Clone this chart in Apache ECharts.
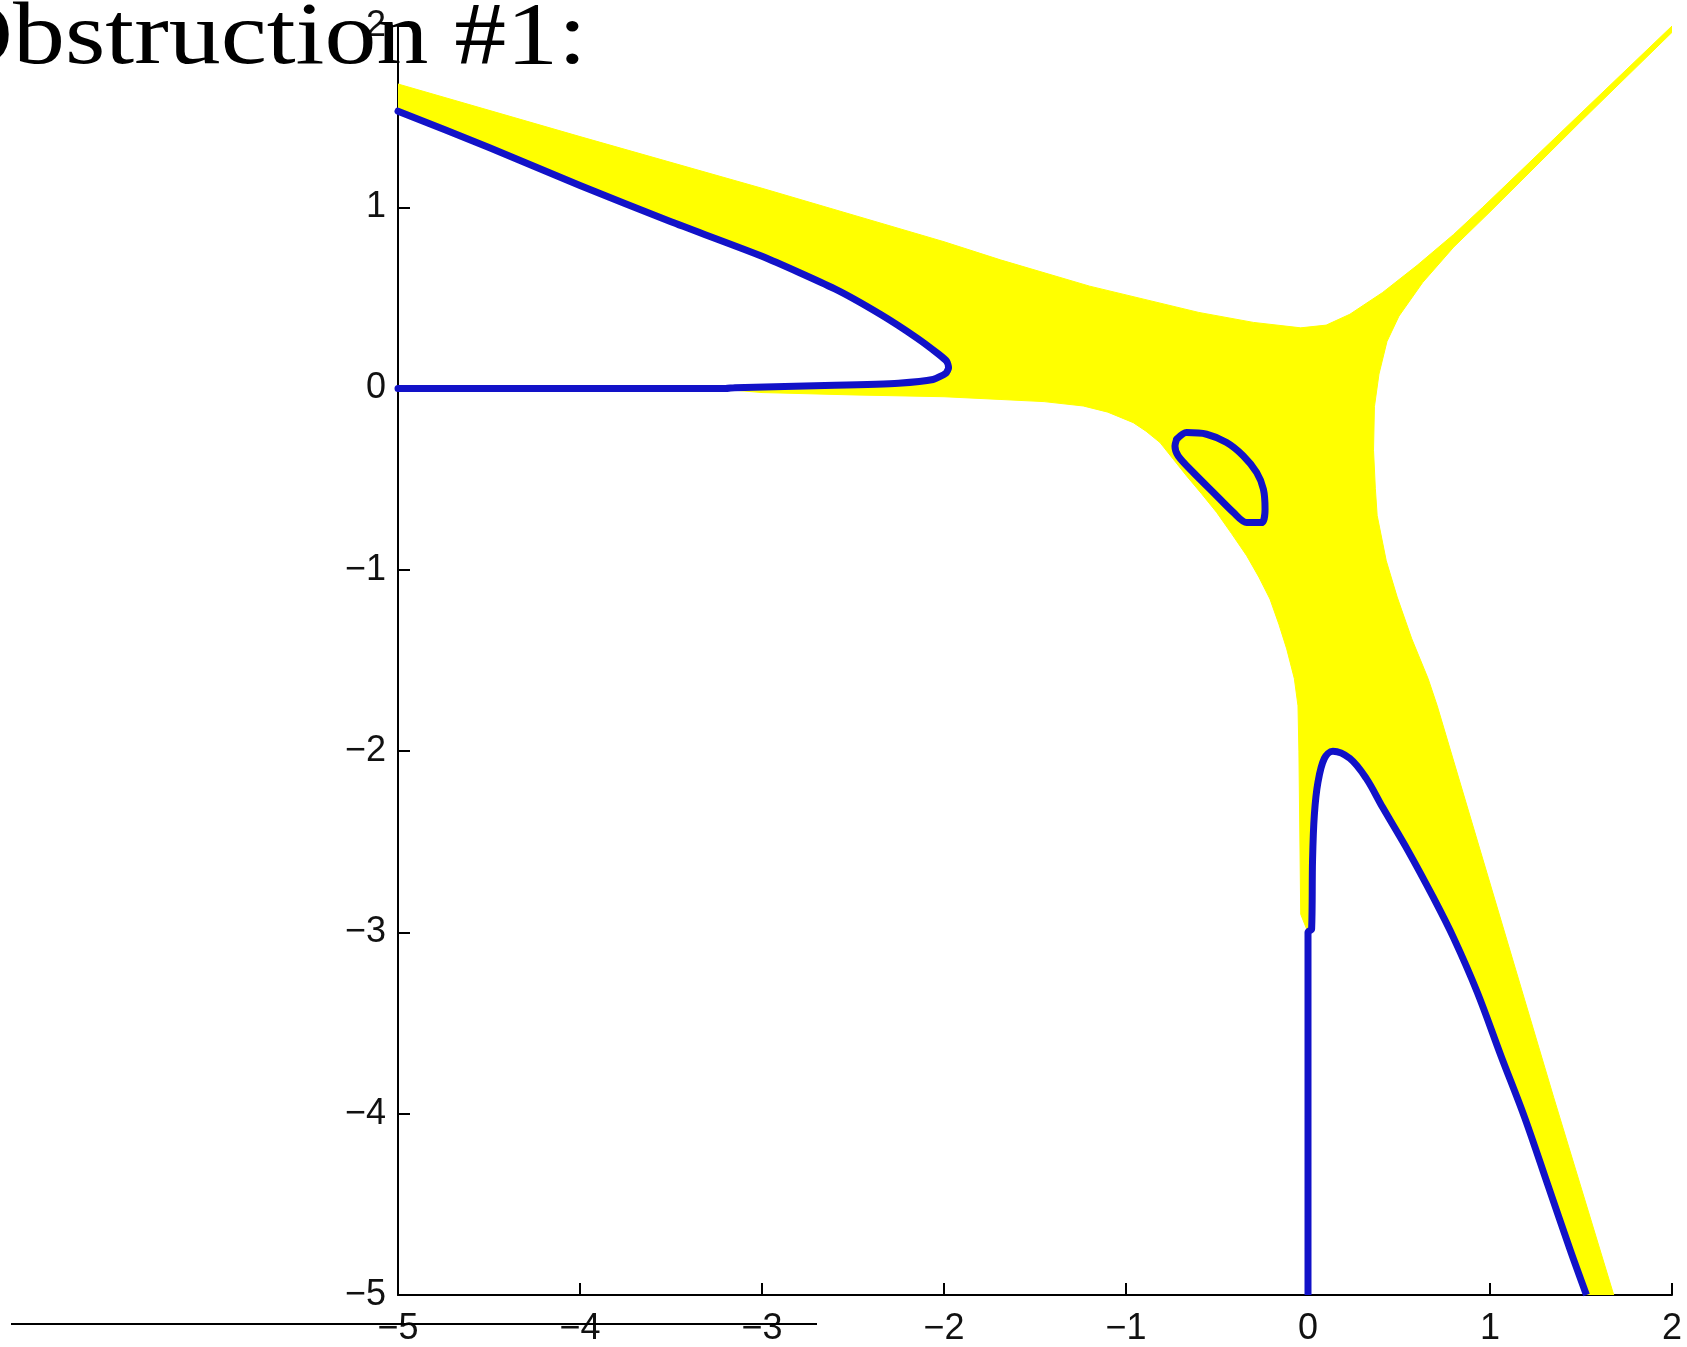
<!DOCTYPE html>
<html>
<head>
<meta charset="utf-8">
<script src="https://cdn.jsdelivr.net/npm/echarts@6/dist/echarts.min.js"></script>
<style>
  html, body { margin: 0; padding: 0; background: #fff; }
  #chart { width: 1687px; height: 1347px; }
</style>
</head>
<body>
<div id="chart"></div>
<script>
// Tick values shared by both axes
const tickValues = [-5, -4, -3, -2, -1, 0, 1, 2];

// Outline of the yellow region, traced clockwise from the upper-left corner
const bandX = [
  -5, -4, -3, -2, -1.69, -1.2, -0.6, -0.3, -0.04, 0.1, 0.23, 0.41, 0.6, 0.8, 0.96, 1.5, 2.0,
  2.0, 1.5, 1.0, 0.8, 0.63, 0.5, 0.434, 0.39, 0.365, 0.36, 0.37, 0.38, 0.43, 0.49, 0.57, 0.66, 0.71, 1.35, 1.68,
  1.53, 1.44, 1.32, 1.19, 1.06, 0.93, 0.80, 0.69, 0.55, 0.41, 0.32, 0.23, 0.137, 0.09, 0.055, 0.035, 0.025, 0.02, 0,
  -0.04, -0.05, -0.055, -0.075, -0.117, -0.16, -0.209, -0.27, -0.337, -0.42, -0.502, -0.585, -0.667, -0.74, -0.813,
  -0.89, -0.96, -1.1, -1.235, -1.45, -1.692, -2.0, -2.5, -3.0, -3.2,
  -2.6, -2.25, -2.06, -1.99, -1.975, -2.03, -2.15, -2.35, -2.6, -3, -3.5, -4, -4.5, -5
];
const bandY = [
  1.68, 1.39, 1.105, 0.81, 0.71, 0.565, 0.42, 0.365, 0.335, 0.35, 0.41, 0.53, 0.68, 0.85, 1.0, 1.52, 2.0,
  1.965, 1.475, 0.975, 0.78, 0.585, 0.40, 0.26, 0.08, -0.1, -0.34, -0.55, -0.70, -0.95, -1.15, -1.38, -1.6, -1.75, -3.91, -5.0,
  -5.0, -4.75, -4.4, -4.02, -3.68, -3.33, -3.03, -2.81, -2.55, -2.31, -2.15, -2.04, -2.0, -2.04, -2.17, -2.35, -2.6, -2.98, -3.0,
  -2.9, -2.0, -1.75, -1.6, -1.436, -1.3, -1.161, -1.04, -0.922, -0.8, -0.683, -0.58, -0.482, -0.39, -0.298,
  -0.235, -0.188, -0.13, -0.096, -0.072, -0.06, -0.045, -0.035, -0.022, -0.005,
  0.018, 0.03, 0.05, 0.085, 0.125, 0.19, 0.28, 0.41, 0.55, 0.73, 0.92, 1.12, 1.33, 1.53
];

// Blue contour: wedge opening to the left
const wedgeX = [-5, -4.5, -4, -3.5, -3, -2.6, -2.35, -2.15, -2.03, -1.985, -1.975, -1.99, -2.06, -2.25, -2.6, -3.15, -3.2, -5];
const wedgeY = [1.53, 1.33, 1.12, 0.92, 0.73, 0.55, 0.41, 0.28, 0.19, 0.15, 0.115, 0.085, 0.05, 0.03, 0.018, 0.005, 0.0, 0.0];

// Blue contour: small closed loop
const loopX = [-0.722, -0.667, -0.557, -0.447, -0.355, -0.282, -0.245, -0.236, -0.255, -0.337, -0.41, -0.52, -0.63, -0.713, -0.731, -0.722];
const loopY = [-0.28, -0.243, -0.252, -0.298, -0.372, -0.463, -0.555, -0.665, -0.739, -0.739, -0.683, -0.573, -0.463, -0.372, -0.317, -0.28];

// Blue contour: hook rising from the bottom edge
const hookX = [0, 0, 0.02, 0.025, 0.035, 0.055, 0.09, 0.137, 0.23, 0.32, 0.41, 0.55, 0.69, 0.80, 0.93, 1.06, 1.19, 1.32, 1.44, 1.53];
const hookY = [-5, -3.0, -2.98, -2.6, -2.35, -2.17, -2.04, -2.0, -2.04, -2.15, -2.31, -2.55, -2.81, -3.03, -3.33, -3.68, -4.02, -4.4, -4.75, -5.0];

const pairs = (xs, ys) => xs.map((x, i) => [x, ys[i]]);
const minus = v => String(v).replace('-', '\u2212');

const BLUE = '#1212c8';
const YELLOW = '#ffff00';

const axisCommon = {
  type: 'value',
  min: tickValues[0],
  max: tickValues[tickValues.length - 1],
  interval: 1,
  splitLine: { show: false },
  axisLine: { show: true, onZero: false, lineStyle: { color: '#000', width: 2 } },
  axisTick: { show: true, inside: true, length: 12, lineStyle: { color: '#000', width: 2 } },
  axisLabel: {
    fontSize: 36,
    fontFamily: '"Liberation Sans", sans-serif',
    color: '#111',
    formatter: minus
  }
};

const chart = echarts.init(document.getElementById('chart'), null, { renderer: 'canvas' });

chart.setOption({
  animation: false,
  backgroundColor: '#fff',
  grid: { left: 398, right: 15, top: 26, bottom: 50, containLabel: false },
  xAxis: Object.assign({}, axisCommon, {
    axisLabel: Object.assign({}, axisCommon.axisLabel, { margin: 16 })
  }),
  yAxis: Object.assign({}, axisCommon, {
    axisLabel: Object.assign({}, axisCommon.axisLabel, { margin: 12 })
  }),
  series: [
    {
      type: 'custom',
      name: 'band',
      coordinateSystem: 'cartesian2d',
      data: [[0, 0]],
      clip: true,
      z: 1,
      renderItem: function (params, api) {
        const pts = bandX.map((x, i) => api.coord([x, bandY[i]]));
        return {
          type: 'polygon',
          shape: { points: pts },
          style: { fill: YELLOW, stroke: YELLOW, lineWidth: 1 }
        };
      }
    },
    {
      type: 'line', name: 'wedge', data: pairs(wedgeX, wedgeY),
      showSymbol: false, smooth: 0.2, z: 3,
      lineStyle: { color: BLUE, width: 7, cap: 'round', join: 'round' }
    },
    {
      type: 'line', name: 'loop', data: pairs(loopX, loopY),
      showSymbol: false, smooth: 0.3, z: 3,
      lineStyle: { color: BLUE, width: 7, cap: 'round', join: 'round' }
    },
    {
      type: 'line', name: 'hook', data: pairs(hookX, hookY),
      showSymbol: false, smooth: 0.35, z: 3,
      lineStyle: { color: BLUE, width: 7, cap: 'butt', join: 'round' }
    }
  ],
  graphic: [
    {
      type: 'text',
      x: -62, y: 40,
      scaleX: 1.18,
      z: 100,
      style: {
        text: 'Obstruction #1:',
        fontSize: 88,
        fontFamily: 'Liberation Serif',
        fill: '#000',
        align: 'left',
        verticalAlign: 'middle'
      }
    },
    {
      type: 'line',
      z: 100,
      shape: { x1: 11, y1: 1324, x2: 817, y2: 1324 },
      style: { stroke: '#000', lineWidth: 2 }
    }
  ]
});
</script>
</body>
</html>
